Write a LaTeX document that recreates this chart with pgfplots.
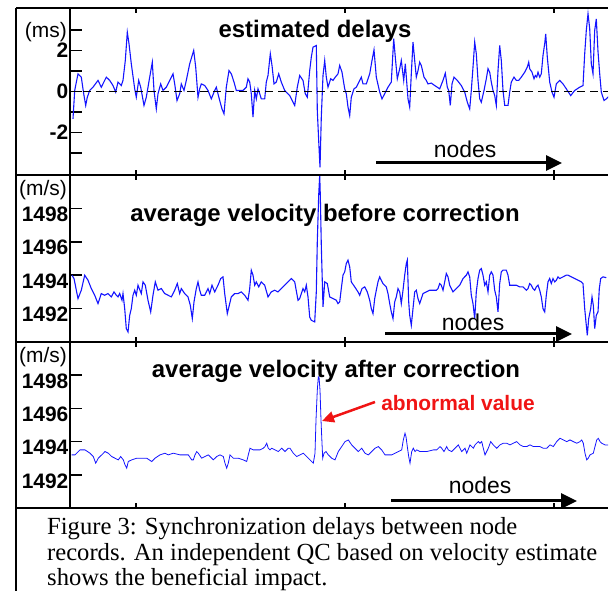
\documentclass[border=0pt]{standalone}
\usepackage{pgfplots}
\pgfplotsset{compat=1.18}
\usepackage{fontspec}
\setmainfont{Liberation Serif}
\newfontfamily\arial{Liberation Sans}
\usetikzlibrary{arrows.meta}
\definecolor{lineblue}{RGB}{20,20,255}
\definecolor{annred}{RGB}{240,20,20}

\pgfplotstableread{
x y
73 -1.33
74.7 0.05
78 0.86
81.3 0.70
83.7 -0.11
85.7 -0.68
87.3 -0.28
89.7 0.05
93 0.21
98 0.54
101.3 0.21
106.3 0.70
109.7 0.54
113 0.29
115.7 -0.03
118 0.46
121.3 0.29
123 0.54
125.3 1.51
127.3 2.89
129 2.33
131.3 1.35
134.7 0.13
136.3 -0.28
138.7 0.54
140.7 0.21
144 -0.68
146.3 -0.28
149.7 0.70
152.3 1.43
154 0.05
156.3 -0.85
158 -0.11
160.7 0.37
163 0.05
166.3 0.21
169.7 0.54
173 0.86
174.7 0.37
177 -0.44
179.7 -0.11
181.3 0.37
184 0.05
186.3 0.54
189.7 1.35
193.7 2.00
195.7 1.19
198 -0.28
199.7 0.13
201.3 0.37
204.7 0.29
208 0.05
211.3 -0.36
214.7 0.05
216.3 0.21
219.7 -0.44
222 -0.85
224 -1.09
226.3 0.21
229 1.02
231.3 0.86
234 0.46
236.3 0.05
243 0.05
246.3 0.21
248 0.62
249.7 0.46
251.3 -0.11
253 -1.25
254.7 0.05
256.3 -0.36
258 0.13
259.7 -0.11
261.3 -0.36
264.7 -0.36
266.3 0.46
268 0.78
270.3 1.84
272 1.27
274 0.37
276.3 0.46
278.7 0.86
281.3 0.46
284.7 0.05
289.7 -0.20
294.7 -0.68
297.3 0.21
299.7 0.78
303 0.54
305.3 -0.11
307.3 -0.28
309.7 1.02
311.3 1.67
313 2.16
316.3 2.24
317.3 -0.93
319 -2.72
320 -3.70
321.3 -1.25
323 0.78
324.7 1.51
326.3 0.70
328 0.21
330.7 0.62
333 0.54
335.3 0.70
338 0.86
339.7 1.27
342 0.94
344.7 0.13
346.3 -0.11
348 -0.76
349.7 -1.17
351.3 -0.28
354 0.13
356.3 0.21
359.7 0.54
361.3 0.70
363 0.37
366.3 0.37
369.7 0.86
372 1.51
374 2.03
376.3 0.70
379.7 -0.03
382 -0.36
384.7 -0.11
388 0.21
391.3 0.46
393.7 2.57
395.3 1.67
397.3 0.62
399.7 1.11
401.3 1.51
403.7 0.54
405.3 1.35
408 -0.36
409.7 -0.76
411.3 0.86
413 2.41
414.7 1.51
416.3 0.70
418 1.02
419.7 1.43
421.3 1.27
424 0.70
426.3 0.54
428 0.37
431.3 0.41
434.7 0.29
439.7 0.13
443 0.54
445.3 0.89
447.3 0.21
448.7 0.05
450.3 -0.68
452 0.37
454 0.70
457.3 0.54
461.3 0.29
464.7 -0.03
467.3 -0.52
469.7 -0.85
471.3 0.05
473 1.19
474.7 2.41
476.3 1.84
478 0.54
479.7 -0.36
481.3 -0.52
484 0.05
486.3 0.62
488 1.11
489.7 0.94
491.3 0.46
493 0.05
494.7 -0.20
496.3 -0.68
498 1.02
499.7 2.24
501.3 1.51
503 0.05
504.7 -0.68
508 -0.68
509.7 -0.03
511.3 0.46
514 0.70
516.3 0.54
518.7 0.54
521.3 0.70
524.7 0.94
527.3 1.19
528.7 1.43
529.7 1.11
532 0.94
534 0.62
535.3 0.78
536.7 0.70
538 0.94
539.7 0.70
541.3 0.86
543 1.76
544.7 2.33
545.7 2.81
547.3 1.67
549.7 0.46
552 -0.03
554 -0.28
556.3 0.37
559.7 0.54
563 0.37
566.3 0.13
570.7 -0.20
574.7 0.05
579.7 0.21
583 0.29
584.7 1.84
586.3 2.98
588 3.79
589.7 3.06
591.3 1.35
593 0.86
594.7 2.98
596.3 3.54
598 1.95
599.7 0.86
601.3 -0.03
604 -0.44
606.3 -0.36
609.7 -0.20
}\delays

\pgfplotstableread{
x y
72 1494.0
74 1493.8
78 1492.6
81.3 1493.1
84.7 1494.0
88 1493.7
91.3 1493.2
94.7 1492.8
98 1492.3
101.3 1492.9
104.7 1492.8
108 1492.9
111.3 1492.7
114 1493.0
116.3 1492.8
118 1492.7
119.7 1492.9
122 1492.5
123 1492.9
124.7 1492.0
126.3 1490.8
128 1490.6
129.7 1491.6
131.3 1492.0
133 1492.8
134.7 1493.1
136.3 1492.8
138 1493.4
141.3 1492.9
143 1493.6
145.3 1493.4
148 1492.5
150.7 1491.8
153 1492.8
155.3 1493.6
158 1493.1
161.3 1493.2
164.7 1492.9
168 1492.8
171.3 1492.7
174.7 1493.1
177.3 1493.5
179.7 1492.9
181.3 1493.2
184.7 1492.9
188 1492.7
190.3 1492.2
192.3 1491.4
194 1492.4
196.3 1493.2
198 1493.6
199.7 1493.1
201.3 1492.8
204.7 1492.8
208 1493.2
209.7 1492.9
212 1493.4
214.7 1493.0
218 1493.4
220.7 1493.8
223 1493.9
224.7 1492.9
227.3 1491.7
229.7 1492.3
231.3 1492.7
234.7 1492.9
238 1492.9
241.3 1493.0
244.7 1492.8
248 1492.5
249.7 1493.2
251.3 1494.3
253 1494.0
254.7 1493.4
256.3 1493.6
258.7 1493.3
261.3 1493.6
264.7 1493.4
268 1492.7
271.3 1493.0
274.7 1493.1
278 1493.0
281.3 1493.2
284.7 1493.4
288 1493.6
291.3 1493.8
294.7 1493.6
298 1492.5
299.7 1492.6
303 1493.2
304.7 1493.0
306.3 1493.4
308 1492.7
309.7 1491.5
311.3 1491.3
314.7 1491.2
316.3 1493.0
317.3 1496.0
318.7 1498.8
319.7 1500.0
320.3 1498.8
321.3 1495.8
323 1492.1
324.7 1493.6
327.3 1493.5
329.7 1492.7
333 1492.6
336.3 1492.5
338 1492.3
339.7 1492.4
341.3 1493.2
343 1494.0
344.7 1494.2
346.3 1494.7
348 1494.9
349.7 1494.5
351.3 1493.6
354.7 1493.3
358 1493.0
359.7 1492.8
362 1493.2
364.7 1493.3
367.3 1493.0
369.7 1492.5
371.3 1492.0
373 1491.7
374.7 1492.6
376.3 1493.1
378 1493.6
379.7 1493.9
381.3 1493.7
383 1493.5
386.3 1493.3
388 1492.9
389.7 1492.3
391.3 1491.8
393 1491.4
394.7 1492.4
396.3 1492.7
398 1493.2
399.7 1493.0
401.3 1492.3
403 1493.1
404.7 1494.0
406.3 1494.7
407.3 1494.9
408.7 1492.4
409.7 1491.6
411.3 1491.0
413 1492.0
414.7 1493.0
416.3 1493.1
418 1492.6
419.7 1492.3
423 1492.9
426.3 1493.0
429.7 1493.1
433 1493.1
436.3 1493.1
438 1493.2
439.7 1493.5
441.3 1493.4
443 1493.1
444.7 1493.6
446.3 1494.1
448 1493.9
449.7 1493.4
453 1493.0
456.3 1493.2
459.7 1493.4
463 1493.8
466.3 1494.0
468 1494.2
469.7 1493.9
471.3 1492.8
473 1492.3
474.7 1491.4
476.3 1493.0
478 1493.8
479.7 1494.3
481.3 1494.4
483 1494.0
484.7 1493.4
486.3 1493.6
488 1493.0
489.7 1494.0
491.3 1494.2
493 1494.0
494.7 1493.1
496.3 1492.7
498 1491.8
499.7 1493.5
501.3 1494.2
503 1494.3
506.3 1494.3
508 1494.0
509.7 1493.4
513 1493.4
516.3 1493.4
519.7 1493.3
523 1493.3
526.3 1493.1
528 1493.2
529.7 1493.5
531.3 1493.4
533 1493.2
534.7 1493.1
536.3 1493.3
538 1493.4
539.7 1493.1
541.3 1492.7
543 1492.0
544.7 1491.8
546.3 1492.8
548 1493.6
549.7 1493.8
551.3 1493.5
553 1493.8
554.7 1493.6
556.3 1493.7
558 1493.9
559.7 1493.8
563 1493.9
566.3 1494.0
568 1494.0
571.3 1493.9
574.7 1493.8
578 1493.7
581.3 1493.6
583 1493.5
584.7 1492.0
586.3 1491.0
587.3 1490.4
588.7 1491.4
590.7 1492.0
592 1492.7
593.3 1492.2
594.7 1490.8
596.3 1491.6
598 1491.8
599.3 1493.2
600.7 1493.8
603 1493.9
606.3 1493.85
}\before

\pgfplotstableread{
x y
71.7 1493.2
75 1493.2
80 1493.5
85 1493.5
90 1493.3
93.3 1493.1
95.7 1492.7
98.3 1493.0
101.7 1493.2
105 1493.4
108.3 1493.3
111.7 1493.1
115 1493.0
118.3 1492.9
120.7 1493.1
123.3 1492.9
125 1492.6
126.7 1492.4
128.3 1492.8
131.7 1492.9
136.7 1493.0
141.7 1493.0
146.7 1493.0
151.7 1492.8
155 1493.0
160 1493.2
165 1493.3
168.3 1493.2
173.3 1493.3
180 1493.2
185 1493.2
188.3 1493.2
191.7 1492.9
193.3 1492.9
195 1493.2
196.7 1493.4
198.3 1493.3
201.7 1493.0
205 1493.1
208.3 1493.2
211.7 1493.0
213.3 1492.9
216.7 1493.1
220 1493.2
223.3 1493.1
225 1492.7
226.7 1492.4
228.3 1492.7
230 1493.2
233.3 1493.0
238.3 1493.0
243.3 1492.9
246.7 1492.8
248.3 1493.2
250 1493.6
253.3 1493.5
256.7 1493.5
260 1493.5
263.3 1493.6
265 1493.7
266.7 1493.9
268.3 1493.6
270 1493.5
271.7 1493.6
275 1493.5
278.3 1493.4
281.7 1493.6
285 1493.4
288.3 1493.6
290 1493.6
293.3 1493.3
296.7 1493.1
300 1493.2
303.3 1493.3
306.7 1493.1
310 1492.9
313.3 1492.7
315 1493.3
316 1495.3
317.3 1497.1
318.3 1497.9
319 1497.9
320 1497.1
321 1495.3
322 1493.9
322.7 1493.0
324 1493.3
326 1493.4
328.3 1493.2
331.7 1493.0
335 1492.9
338.3 1493.4
341.7 1493.7
345 1494.0
348.3 1494.1
351.7 1493.8
355 1493.6
358.3 1493.4
361.7 1493.6
365 1493.3
368.3 1493.2
371.7 1493.4
375 1493.6
378.3 1493.7
381.7 1493.5
385 1493.2
388.3 1493.2
391.7 1493.2
395 1493.3
398.3 1493.4
401.7 1493.5
403.3 1494.1
405 1494.5
406 1494.3
407.3 1493.7
408.7 1493.1
410 1492.7
411.7 1493.4
413.3 1493.6
415 1493.4
416.7 1493.5
420 1493.4
426.7 1493.4
433.3 1493.5
436.7 1493.5
440 1493.7
441.7 1493.6
444 1493.4
446.7 1493.7
448.3 1493.5
451.7 1493.4
455 1493.6
458.3 1493.8
460 1493.6
461.7 1493.4
465 1493.6
466.7 1493.3
470 1493.8
473.3 1493.6
475 1493.8
478.3 1494.0
480 1493.9
481.7 1494.0
483.3 1493.6
485 1493.2
488.3 1493.6
490.7 1494.0
493.3 1493.8
496.7 1493.6
500 1493.8
503.3 1493.9
506.7 1493.9
510 1493.8
513.3 1493.9
516.7 1494.0
520 1493.8
523.3 1493.7
526.7 1493.7
530 1493.8
533.3 1493.7
536.7 1493.7
540 1493.7
543.3 1493.6
546.7 1493.6
550 1493.8
553.3 1493.7
556.7 1494.0
560 1494.2
563.3 1494.1
566.7 1494.0
570 1494.1
573.3 1494.0
576.7 1493.9
580 1494.0
581.7 1494.1
583.3 1493.9
585 1493.3
586.7 1492.9
588.3 1493.0
590 1493.2
593.3 1493.3
595 1493.7
596.7 1494.1
598.3 1494.2
600 1494.0
601.7 1493.9
605 1493.8
608.3 1493.8
}\after

\pgfplotsset{
  panel/.style={
    scale only axis, width=538bp, xmin=70, xmax=608, enlargelimits=false,
    axis line style={draw=none}, xtick=\empty, tick align=inside, ytick pos=left,
    major tick length=12bp, ytick style={black, line width=1.5bp},
    yticklabel style={font=\arial\bfseries\fontsize{21}{21}\selectfont, inner sep=1.5bp, text=black},
    anchor=south west, clip=true,
  },
}
\newcommand{\xticksmarks}{%
  \pgfplotsinvokeforeach{0.1227,0.5112,0.8996}{%
    \draw[line width=1.3bp] (axis description cs:##1,0) -- ++(0bp,5bp);
    \draw[line width=1.3bp] (axis description cs:##1,1) -- ++(0bp,-5bp);
  }%
}

\begin{document}
\begin{tikzpicture}
\path[use as bounding box] (0,0) rectangle (611bp,591bp);

% panel 1
\begin{axis}[panel, at={(70bp,416bp)}, height=167bp, ymin=-4.07, ymax=4.07,
  ytick={-3,-2,-1,0,1,2,3}, yticklabels={,-2,,0,,2,}]
  \addplot[lineblue, line width=1.1bp] table {\delays};
  \addplot[black, line width=1.6bp, dash pattern=on 8bp off 5bp] coordinates {(70,0) (608,0)};
  \xticksmarks
\end{axis}

% panel 2
\begin{axis}[panel, at={(70bp,249bp)}, height=167bp, ymin=1490, ymax=1500,
  ytick={1492,1494,1496,1498}, yticklabels={1492,1494,1496,1498},
  yticklabel style={yshift=-6bp}]
  \addplot[lineblue, line width=1.1bp] table {\before};
  \xticksmarks
\end{axis}

% panel 3
\begin{axis}[panel, at={(70bp,83bp)}, height=166bp, ymin=1490, ymax=1500,
  ytick={1492,1494,1496,1498}, yticklabels={1492,1494,1496,1498},
  yticklabel style={yshift=-6bp}]
  \addplot[lineblue, line width=0.8bp] table {\after};
  \xticksmarks
\end{axis}

% frame
\draw[line width=1.8bp] (16bp,0bp) -- (16bp,583bp);
\draw[line width=1.6bp] (70bp,83bp) -- (70bp,583bp);
\foreach \yy in {583,416,249,83}{\draw[line width=1.8bp] (16bp,\yy bp) -- (608bp,\yy bp);}

% units
\node[anchor=east, inner sep=0pt, font=\arial\fontsize{21}{21}\selectfont] at (67bp,559bp) {(ms)};
\node[anchor=east, inner sep=0pt, font=\arial\fontsize{21}{21}\selectfont] at (67bp,401bp) {(m/s)};
\node[anchor=east, inner sep=0pt, font=\arial\fontsize{21}{21}\selectfont] at (67bp,234bp) {(m/s)};

% titles
\node[anchor=base, inner sep=0pt, font=\arial\bfseries\fontsize{24}{24}\selectfont] at (315bp,553bp) {estimated delays};
\node[anchor=base, inner sep=0pt, font=\arial\bfseries\fontsize{24}{24}\selectfont] at (325bp,369bp) {average velocity before correction};
\node[anchor=base, inner sep=0pt, font=\arial\bfseries\fontsize{24}{24}\selectfont] at (336bp,213bp) {average velocity after correction};

% nodes arrows
\node[anchor=base, inner sep=0pt, font=\arial\fontsize{23}{23}\selectfont] at (465bp,433bp) {nodes};
\draw[line width=3bp, -{Triangle[length=16bp,width=15bp]}] (376bp,428bp) -- (562bp,428bp);
\node[anchor=base, inner sep=0pt, font=\arial\fontsize{23}{23}\selectfont] at (473bp,260bp) {nodes};
\draw[line width=3bp, -{Triangle[length=16bp,width=15bp]}] (385bp,257bp) -- (572bp,257bp);
\node[anchor=base, inner sep=0pt, font=\arial\fontsize{23}{23}\selectfont] at (480bp,97bp) {nodes};
\draw[line width=3bp, -{Triangle[length=16bp,width=15bp]}] (391bp,90bp) -- (577bp,90bp);

% annotation
\node[anchor=base, inner sep=0pt, text=annred, font=\arial\bfseries\fontsize{21}{21}\selectfont] at (458bp,180bp) {abnormal value};
\draw[annred, line width=2.5bp, -{Triangle[length=12bp,width=11bp]}] (375bp,189bp) -- (322bp,170bp);

% caption
\begin{scope}[every node/.style={anchor=base west, inner sep=0pt, font=\fontsize{24.7}{27}\selectfont}]
\node at (47bp,56bp) {Figure 3: Synchronization delays between node};
\node at (47bp,30.5bp) {records. An independent QC based on velocity estimate};
\node at (47bp,5.8bp) {shows the beneficial impact.};
\end{scope}
\end{tikzpicture}
\end{document}
